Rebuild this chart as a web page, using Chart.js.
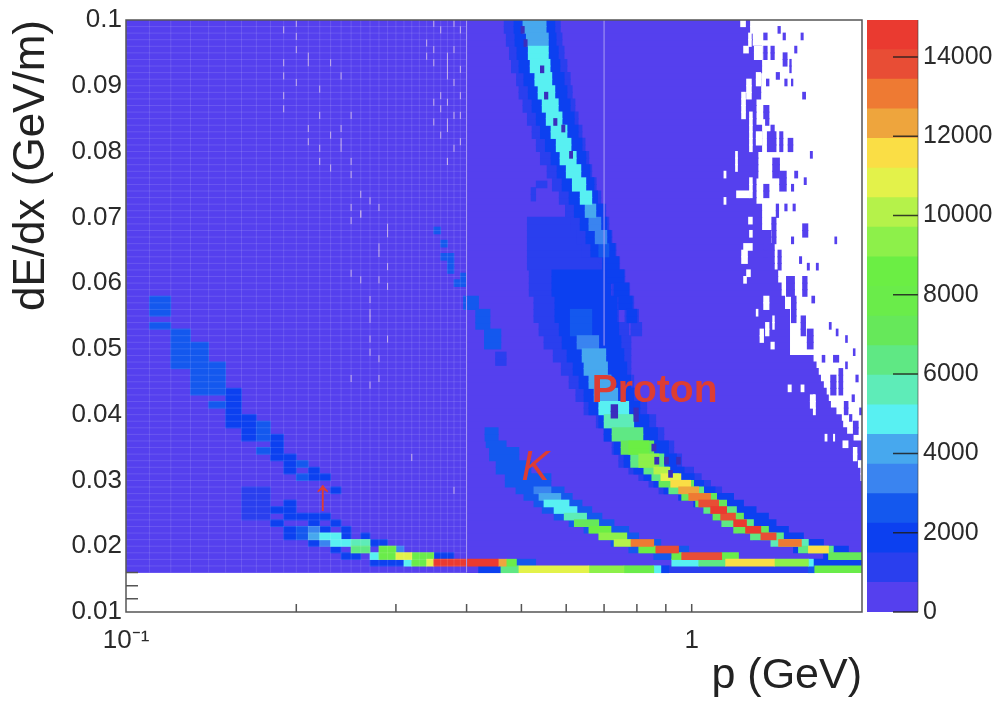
<!DOCTYPE html>
<html lang="en">
<head>
  <meta charset="UTF-8" />
  <title>dE/dx vs p</title>
  <script src="https://cdn.jsdelivr.net/npm/chart.js"></script>
  <style>
    body { margin: 0; background: #fff; }
    #heatChart { position: absolute; left: 0; top: 0; }
    #barChart { position: absolute; left: 867px; top: 0; }
  </style>
</head>
<body>
  <canvas id="heatChart" width="999" height="702"></canvas>
  <canvas id="barChart" width="132" height="702"></canvas>

  <script>
// axis readings
const xTickValues = [0.1, 1];
const xTickLabels = ['10⁻¹', '1'];
const xMinorTicks = [0.2, 0.3, 0.4, 0.5, 0.6, 0.7, 0.8, 0.9, 1];
const yMinorTicks = [0.012, 0.014, 0.016];
const zMax = 14930;
const zTicks = [0, 2000, 4000, 6000, 8000, 10000, 12000, 14000];
const zBandColors = ['#5540ee', '#2a3fee', '#0c40f0', '#1458ee', '#3a84f0', '#47a8ee', '#58f0f2', '#5eecb8',
  '#5fe884', '#66e85a', '#6aec4a', '#6bee44', '#8df04a', '#b5f24a', '#e3f24a', '#fade45',
  '#eea53d', '#ee7a33', '#e84d35', '#ea3a30'];

// cells: [dE/dx from, dE/dx to, p from, p to, counts]
const baseBlocks = [
  [0.016, 0.036, 0.1, 2, 300], [0.036, 0.037, 0.1, 1.93, 300], [0.037, 0.038, 0.1, 1.88, 300],
  [0.038, 0.039, 0.1, 1.85, 300], [0.039, 0.04, 0.1, 1.84, 300], [0.04, 0.041, 0.1, 1.8, 300],
  [0.041, 0.042, 0.1, 1.76, 300], [0.042, 0.043, 0.1, 1.745, 300], [0.043, 0.044, 0.1, 1.73, 300],
  [0.044, 0.045, 0.1, 1.71, 300], [0.045, 0.046, 0.1, 1.69, 300], [0.046, 0.047, 0.1, 1.675, 300],
  [0.047, 0.048, 0.1, 1.66, 300], [0.048, 0.049, 0.1, 1.64, 300], [0.049, 0.056, 0.1, 1.49, 300],
  [0.056, 0.058, 0.1, 1.46, 300], [0.058, 0.06, 0.1, 1.44, 300], [0.06, 0.062, 0.1, 1.42, 300],
  [0.062, 0.066, 0.1, 1.4, 300], [0.066, 0.068, 0.1, 1.38, 300], [0.068, 0.072, 0.1, 1.33, 300],
  [0.072, 0.076, 0.1, 1.3, 300], [0.076, 0.08, 0.1, 1.31, 300], [0.08, 0.084, 0.1, 1.33, 300],
  [0.084, 0.088, 0.1, 1.3, 300], [0.088, 0.092, 0.1, 1.325, 300], [0.092, 0.096, 0.1, 1.33, 300],
  [0.096, 0.1, 0.1, 1.28, 300]
];
const blueSpecks = [
  [0.098, 0.099, 1.42, 1.435, 300], [0.097, 0.098, 1.45, 1.465, 300], [0.097, 0.098, 1.56, 1.575, 300],
  [0.097, 0.098, 1.34, 1.36, 300], [0.095, 0.096, 1.52, 1.535, 300], [0.094, 0.096, 1.34, 1.36, 300],
  [0.094, 0.096, 1.38, 1.4, 300], [0.093, 0.095, 1.45, 1.475, 300], [0.092, 0.094, 1.49, 1.5, 300],
  [0.091, 0.092, 1.41, 1.43, 300], [0.09, 0.091, 1.46, 1.475, 300], [0.09, 0.091, 1.355, 1.37, 300],
  [0.09, 0.091, 1.5, 1.51, 300], [0.088, 0.089, 1.57, 1.59, 300], [0.085, 0.087, 1.34, 1.37, 300],
  [0.084, 0.085, 1.35, 1.37, 300], [0.082, 0.084, 1.38, 1.4, 300], [0.08, 0.083, 1.36, 1.41, 300],
  [0.08, 0.083, 1.43, 1.45, 300], [0.08, 0.082, 1.48, 1.51, 300], [0.079, 0.08, 1.62, 1.635, 300],
  [0.076, 0.079, 1.39, 1.43, 300], [0.074, 0.077, 1.43, 1.47, 300], [0.076, 0.077, 1.52, 1.54, 300],
  [0.075, 0.076, 1.58, 1.595, 300], [0.074, 0.075, 1.5, 1.515, 300], [0.073, 0.075, 1.34, 1.37, 300],
  [0.07, 0.072, 1.41, 1.425, 300], [0.071, 0.072, 1.46, 1.475, 300], [0.071, 0.072, 1.51, 1.525, 300],
  [0.066, 0.07, 1.385, 1.41, 300], [0.067, 0.069, 1.57, 1.605, 300], [0.066, 0.067, 1.79, 1.805, 300],
  [0.066, 0.067, 1.5, 1.515, 300], [0.064, 0.066, 1.34, 1.36, 300], [0.062, 0.065, 1.42, 1.44, 300],
  [0.063, 0.064, 1.55, 1.565, 300], [0.062, 0.063, 1.6, 1.615, 300], [0.062, 0.063, 1.66, 1.675, 300],
  [0.058, 0.061, 1.47, 1.52, 300], [0.058, 0.061, 1.57, 1.6, 300], [0.057, 0.058, 1.63, 1.65, 300],
  [0.054, 0.058, 1.5, 1.53, 300], [0.052, 0.055, 1.56, 1.59, 300], [0.05, 0.053, 1.6, 1.64, 300],
  [0.053, 0.054, 1.75, 1.765, 300], [0.052, 0.053, 1.8, 1.815, 300], [0.051, 0.052, 1.87, 1.885, 300],
  [0.049, 0.05, 1.93, 1.945, 300], [0.048, 0.049, 1.7, 1.72, 300], [0.048, 0.049, 1.78, 1.82, 300],
  [0.047, 0.048, 1.87, 1.885, 300], [0.043, 0.047, 1.82, 1.85, 300], [0.045, 0.046, 1.95, 1.97, 300],
  [0.043, 0.046, 1.76, 1.8, 300], [0.042, 0.043, 1.92, 1.94, 300], [0.04, 0.042, 1.86, 1.89, 300],
  [0.04, 0.041, 1.98, 2, 300], [0.039, 0.04, 1.9, 1.92, 300], [0.037, 0.039, 1.93, 1.97, 300]
];
const whiteSpecks = [
  [0.099, 0.1, 1.22, 1.245], [0.098, 0.1, 1.27, 1.286], [0.096, 0.098, 1.26, 1.275], [0.095, 0.096, 1.235, 1.26],
  [0.094, 0.096, 1.29, 1.33], [0.09, 0.092, 1.3, 1.325], [0.088, 0.091, 1.25, 1.275], [0.085, 0.089, 1.225, 1.245],
  [0.083, 0.086, 1.265, 1.28], [0.08, 0.083, 1.265, 1.28], [0.081, 0.083, 1.3, 1.33], [0.077, 0.08, 1.195, 1.205],
  [0.076, 0.077, 1.14, 1.15], [0.073, 0.076, 1.265, 1.28], [0.073, 0.074, 1.2, 1.265], [0.072, 0.073, 1.14, 1.15],
  [0.069, 0.07, 1.26, 1.28], [0.067, 0.068, 1.265, 1.28], [0.065, 0.066, 1.235, 1.28], [0.063, 0.065, 1.225, 1.255],
  [0.061, 0.062, 1.25, 1.27], [0.06, 0.061, 1.235, 1.25], [0.056, 0.058, 1.34, 1.37], [0.055, 0.056, 1.3, 1.31],
  [0.052, 0.054, 1.35, 1.37], [0.053, 0.055, 1.39, 1.4], [0.051, 0.053, 1.32, 1.34], [0.05, 0.051, 1.38, 1.4],
  [0.041, 0.043, 1.62, 1.65], [0.04, 0.043, 1.64, 1.655], [0.0435, 0.0445, 1.56, 1.58], [0.0435, 0.0445, 1.48, 1.5],
  [0.036, 0.037, 1.72, 1.735], [0.036, 0.037, 1.78, 1.79], [0.035, 0.036, 1.85, 1.89], [0.033, 0.035, 1.93, 1.96],
  [0.032, 0.033, 1.97, 2], [0.03, 0.032, 1.99, 2]
];
const pionUpper = [
  [0.055, 0.058, 0.11, 0.12, 2600], [0.053, 0.054, 0.11, 0.12, 2600], [0.047, 0.053, 0.12, 0.13, 2600],
  [0.043, 0.051, 0.13, 0.14, 2600], [0.043, 0.048, 0.14, 0.15, 2600], [0.041, 0.042, 0.14, 0.15, 2600],
  [0.038, 0.044, 0.15, 0.16, 1800], [0.036, 0.04, 0.16, 0.17, 1800], [0.036, 0.039, 0.17, 0.18, 2600],
  [0.034, 0.035, 0.17, 0.18, 2600], [0.033, 0.037, 0.18, 0.19, 1800], [0.031, 0.034, 0.19, 0.2, 1800],
  [0.032, 0.033, 0.2, 0.21, 2600], [0.03, 0.031, 0.2, 0.21, 2600], [0.03, 0.032, 0.21, 0.22, 1800],
  [0.03, 0.031, 0.22, 0.23, 1800], [0.028, 0.029, 0.23, 0.24, 1800],
  [0.0675, 0.0685, 0.35, 0.36, 2600], [0.0655, 0.0665, 0.36, 0.37, 2600], [0.0635, 0.0645, 0.36, 0.38, 2600],
  [0.0615, 0.0635, 0.37, 0.38, 2600], [0.0605, 0.0615, 0.39, 0.4, 2600], [0.0595, 0.0605, 0.38, 0.4, 2600],
  [0.056, 0.0585, 0.395, 0.42, 2600], [0.053, 0.056, 0.415, 0.44, 2600], [0.05, 0.053, 0.43, 0.46, 2600],
  [0.0475, 0.05, 0.45, 0.47, 1100]
];
const pionLower = [
  [0.027, 0.029, 0.16, 0.18, 1100], [0.026, 0.027, 0.16, 0.18, 1100], [0.026, 0.027, 0.19, 0.2, 1800],
  [0.025, 0.026, 0.16, 0.18, 1100], [0.025, 0.026, 0.18, 0.2, 1800], [0.024, 0.025, 0.16, 0.18, 1100],
  [0.024, 0.025, 0.19, 0.23, 1800], [0.023, 0.024, 0.18, 0.19, 1800], [0.023, 0.024, 0.21, 0.22, 1800],
  [0.023, 0.024, 0.23, 0.24, 1800], [0.022, 0.023, 0.19, 0.2, 1800], [0.022, 0.023, 0.2, 0.21, 2600],
  [0.022, 0.023, 0.21, 0.22, 3400], [0.022, 0.023, 0.22, 0.23, 1800], [0.022, 0.023, 0.24, 0.25, 1800],
  [0.021, 0.022, 0.19, 0.2, 1800], [0.021, 0.022, 0.2, 0.21, 2600], [0.021, 0.022, 0.21, 0.22, 4100],
  [0.021, 0.022, 0.22, 0.24, 4900], [0.021, 0.022, 0.24, 0.25, 1800], [0.021, 0.022, 0.26, 0.27, 1800],
  [0.02, 0.021, 0.21, 0.22, 1800], [0.02, 0.021, 0.22, 0.23, 3400], [0.02, 0.021, 0.23, 0.25, 4900],
  [0.02, 0.021, 0.25, 0.27, 5600], [0.02, 0.021, 0.27, 0.29, 1800], [0.019, 0.02, 0.23, 0.24, 1800],
  [0.019, 0.02, 0.25, 0.27, 6400], [0.019, 0.02, 0.28, 0.3, 8000], [0.019, 0.02, 0.3, 0.31, 3400],
  [0.018, 0.019, 0.24, 0.26, 1800], [0.018, 0.019, 0.27, 0.28, 4900], [0.018, 0.019, 0.28, 0.3, 8000],
  [0.018, 0.019, 0.3, 0.32, 10800], [0.018, 0.019, 0.32, 0.35, 8000], [0.018, 0.019, 0.35, 0.38, 1800],
  [0.017, 0.018, 0.27, 0.31, 1800], [0.017, 0.018, 0.31, 0.32, 4900], [0.017, 0.018, 0.32, 0.34, 8000],
  [0.017, 0.018, 0.34, 0.35, 11000], [0.017, 0.018, 0.35, 0.455, 14500], [0.017, 0.018, 0.455, 0.47, 12300],
  [0.017, 0.018, 0.47, 0.49, 8000], [0.017, 0.018, 0.49, 0.53, 2600],
  [0.016, 0.017, 0.42, 0.46, 1800], [0.016, 0.017, 0.46, 0.495, 6400], [0.016, 0.017, 0.495, 0.658, 11000],
  [0.016, 0.017, 0.658, 0.759, 9300], [0.016, 0.017, 0.759, 0.857, 8000], [0.016, 0.017, 0.857, 0.882, 4900],
  [0.016, 0.017, 0.882, 0.911, 1800], [0.016, 0.017, 0.911, 1.608, 1100], [0.016, 0.017, 1.608, 1.65, 2600],
  [0.016, 0.017, 1.65, 2, 7800]
];
const kaonLobe = [
  [0.036, 0.038, 0.431, 0.455, 2600], [0.035, 0.036, 0.433, 0.47, 2600], [0.033, 0.035, 0.439, 0.495, 2600],
  [0.031, 0.033, 0.451, 0.52, 2600], [0.029, 0.031, 0.468, 0.564, 2600], [0.028, 0.029, 0.489, 0.595, 2600],
  [0.027, 0.028, 0.505, 0.615, 2600], [0.026, 0.027, 0.526, 0.64, 2600], [0.025, 0.026, 0.544, 0.666, 2600],
  [0.024, 0.025, 0.571, 0.694, 2600], [0.023, 0.024, 0.607, 0.729, 2600], [0.022, 0.023, 0.645, 0.774, 2600],
  [0.021, 0.022, 0.685, 0.806, 2600], [0.02, 0.021, 0.72, 0.882, 2600], [0.019, 0.02, 0.774, 0.988, 2600],
  [0.018, 0.019, 0.857, 1.162, 2600]
];
const kaonCore = [
  [0.028, 0.029, 0.526, 0.564, 3400], [0.027, 0.028, 0.537, 0.587, 4100], [0.026, 0.027, 0.548, 0.607, 4900],
  [0.025, 0.026, 0.571, 0.627, 4900], [0.024, 0.025, 0.595, 0.652, 5600], [0.023, 0.024, 0.62, 0.685, 7100],
  [0.022, 0.023, 0.658, 0.72, 8600], [0.021, 0.022, 0.685, 0.768, 9300], [0.02, 0.021, 0.729, 0.781, 10100],
  [0.02, 0.021, 0.781, 0.857, 13000], [0.019, 0.02, 0.806, 0.864, 8600], [0.019, 0.02, 0.864, 0.948, 13800],
  [0.018, 0.019, 0.922, 0.96, 8000], [0.018, 0.019, 0.96, 1.13, 13800], [0.018, 0.019, 1.13, 1.21, 8000],
  [0.017, 0.018, 0.922, 1.029, 4900], [0.017, 0.018, 1.029, 1.148, 6400], [0.017, 0.018, 1.148, 1.4, 11600],
  [0.017, 0.018, 1.4, 1.608, 9300], [0.017, 0.018, 1.608, 1.641, 4900], [0.017, 0.018, 1.641, 2, 1800]
];
const protonUpper = [
  [0.098, 0.1, 0.466, 0.586, 1100], [0.098, 0.1, 0.485, 0.573, 1800], [0.098, 0.1, 0.503, 0.553, 4100],
  [0.096, 0.098, 0.47, 0.59, 1100], [0.096, 0.098, 0.487, 0.576, 1800], [0.096, 0.098, 0.51, 0.558, 4100],
  [0.094, 0.096, 0.476, 0.595, 1100], [0.094, 0.096, 0.491, 0.581, 1800], [0.094, 0.096, 0.514, 0.558, 4900],
  [0.092, 0.094, 0.48, 0.602, 1100], [0.092, 0.094, 0.495, 0.585, 1800], [0.092, 0.094, 0.518, 0.562, 4900],
  [0.09, 0.092, 0.49, 0.61, 1100], [0.09, 0.092, 0.505, 0.595, 1800], [0.09, 0.092, 0.528, 0.566, 4900],
  [0.088, 0.09, 0.495, 0.615, 1100], [0.088, 0.09, 0.514, 0.602, 1800], [0.088, 0.09, 0.535, 0.573, 4900],
  [0.086, 0.088, 0.503, 0.622, 1100], [0.086, 0.088, 0.522, 0.61, 1800], [0.086, 0.088, 0.544, 0.581, 4900],
  [0.084, 0.086, 0.512, 0.63, 1100], [0.084, 0.086, 0.531, 0.62, 1800], [0.084, 0.086, 0.553, 0.59, 4900],
  [0.082, 0.084, 0.522, 0.64, 1100], [0.082, 0.084, 0.54, 0.63, 1800], [0.082, 0.084, 0.564, 0.602, 4900],
  [0.08, 0.082, 0.531, 0.648, 1100], [0.08, 0.082, 0.551, 0.64, 1800], [0.08, 0.082, 0.576, 0.612, 4900],
  [0.078, 0.08, 0.54, 0.658, 1100], [0.078, 0.08, 0.564, 0.65, 1800], [0.078, 0.08, 0.585, 0.625, 4900],
  [0.076, 0.078, 0.555, 0.666, 1100], [0.076, 0.078, 0.578, 0.661, 1800], [0.076, 0.078, 0.6, 0.637, 4900],
  [0.074, 0.076, 0.567, 0.678, 1100], [0.074, 0.076, 0.59, 0.672, 1800], [0.074, 0.076, 0.615, 0.65, 4900],
  [0.072, 0.074, 0.583, 0.691, 1100], [0.072, 0.074, 0.607, 0.682, 1800], [0.072, 0.074, 0.635, 0.666, 4900],
  [0.07, 0.072, 0.598, 0.705, 1100], [0.07, 0.072, 0.62, 0.697, 1800], [0.07, 0.072, 0.648, 0.677, 4100],
  [0.068, 0.07, 0.612, 0.714, 1100], [0.068, 0.07, 0.635, 0.708, 1800], [0.068, 0.07, 0.658, 0.691, 3400],
  [0.066, 0.068, 0.627, 0.723, 1100], [0.066, 0.068, 0.65, 0.72, 1800], [0.066, 0.068, 0.675, 0.708, 3400],
  [0.064, 0.066, 0.64, 0.735, 1100], [0.064, 0.066, 0.663, 0.732, 1800], [0.064, 0.066, 0.685, 0.714, 2600],
  [0.062, 0.064, 0.685, 0.746, 1100], [0.062, 0.064, 0.695, 0.743, 1800], [0.06, 0.062, 0.702, 0.762, 1100],
  [0.06, 0.062, 0.708, 0.759, 1800], [0.058, 0.06, 0.723, 0.777, 1100], [0.058, 0.06, 0.729, 0.774, 1800],
  [0.056, 0.058, 0.738, 0.79, 1100], [0.056, 0.058, 0.743, 0.785, 1800], [0.054, 0.056, 0.762, 0.806, 1100],
  [0.054, 0.056, 0.768, 0.8, 1800], [0.052, 0.054, 0.781, 0.816, 1100]
];
const protonLobe = [
  [0.0745, 0.0755, 0.531, 0.555, 1100], [0.0725, 0.0745, 0.52, 0.53, 1100],
  [0.066, 0.07, 0.512, 0.66, 1100], [0.062, 0.066, 0.512, 0.685, 1100], [0.058, 0.062, 0.516, 0.714, 1100],
  [0.054, 0.058, 0.526, 0.743, 1100], [0.052, 0.054, 0.537, 0.774, 1100], [0.05, 0.052, 0.548, 0.781, 1100],
  [0.048, 0.05, 0.569, 0.781, 1100], [0.046, 0.048, 0.588, 0.781, 1100], [0.044, 0.046, 0.607, 0.79, 1100],
  [0.042, 0.044, 0.624, 0.806, 1100], [0.04, 0.042, 0.645, 0.833, 1100], [0.038, 0.04, 0.678, 0.864, 1100],
  [0.036, 0.038, 0.7, 0.893, 1100], [0.034, 0.036, 0.723, 0.93, 1100], [0.032, 0.034, 0.743, 0.96, 1100],
  [0.031, 0.032, 0.774, 1.008, 1100], [0.03, 0.031, 0.806, 1.04, 1100], [0.029, 0.03, 0.84, 1.08, 1100],
  [0.028, 0.029, 0.875, 1.13, 1100],
  [0.058, 0.062, 0.566, 0.72, 1800], [0.054, 0.058, 0.573, 0.738, 1800], [0.052, 0.054, 0.583, 0.743, 1800],
  [0.05, 0.052, 0.59, 0.75, 1800], [0.048, 0.05, 0.602, 0.759, 1800], [0.046, 0.048, 0.617, 0.768, 1800],
  [0.044, 0.046, 0.632, 0.78, 1800], [0.042, 0.044, 0.645, 0.79, 1800], [0.04, 0.042, 0.658, 0.81, 1800],
  [0.038, 0.04, 0.685, 0.84, 1800], [0.036, 0.038, 0.7, 0.87, 1800], [0.034, 0.036, 0.729, 0.91, 1800],
  [0.032, 0.034, 0.759, 0.94, 1800], [0.031, 0.032, 0.79, 0.97, 1800], [0.03, 0.031, 0.823, 1.01, 1800],
  [0.029, 0.03, 0.857, 1.05, 1800], [0.028, 0.029, 0.893, 1.1, 1800], [0.027, 0.028, 0.948, 1.186, 1800],
  [0.026, 0.027, 1.008, 1.235, 1800], [0.025, 0.026, 1.05, 1.3, 1800], [0.024, 0.025, 1.09, 1.367, 1800],
  [0.023, 0.024, 1.139, 1.41, 1800], [0.022, 0.023, 1.21, 1.483, 1800], [0.021, 0.022, 1.286, 1.576, 1800],
  [0.02, 0.021, 1.395, 1.71, 1800], [0.019, 0.02, 1.513, 1.893, 1800], [0.018, 0.019, 1.71, 2, 1800]
];
const protonCore = [
  [0.052, 0.056, 0.61, 0.666, 2600], [0.05, 0.052, 0.627, 0.685, 3400], [0.048, 0.05, 0.64, 0.705, 4100],
  [0.046, 0.048, 0.645, 0.71, 4100], [0.044, 0.046, 0.658, 0.72, 4100], [0.042, 0.044, 0.672, 0.74, 4100],
  [0.04, 0.042, 0.685, 0.774, 4900], [0.038, 0.04, 0.7, 0.79, 5600], [0.036, 0.038, 0.723, 0.82, 6400],
  [0.034, 0.036, 0.75, 0.857, 7100], [0.034, 0.036, 0.774, 0.84, 8600], [0.032, 0.034, 0.78, 0.893, 6400],
  [0.032, 0.034, 0.806, 0.875, 9300], [0.031, 0.032, 0.823, 0.911, 6400], [0.031, 0.032, 0.857, 0.915, 10100],
  [0.03, 0.031, 0.85, 0.948, 6400], [0.03, 0.031, 0.882, 0.957, 10800], [0.029, 0.03, 0.875, 1.008, 7100],
  [0.029, 0.03, 0.918, 0.996, 11600], [0.028, 0.029, 0.911, 1.05, 6400], [0.028, 0.029, 0.948, 1.029, 12300],
  [0.027, 0.028, 0.96, 1.107, 7100], [0.027, 0.028, 0.988, 1.08, 13000], [0.026, 0.027, 1.016, 1.153, 7100],
  [0.026, 0.027, 1.029, 1.116, 13800], [0.025, 0.026, 1.05, 1.2, 6400], [0.025, 0.026, 1.08, 1.153, 14500],
  [0.024, 0.025, 1.09, 1.235, 7100], [0.024, 0.025, 1.125, 1.195, 13800], [0.023, 0.024, 1.13, 1.286, 6400],
  [0.023, 0.024, 1.186, 1.25, 14500], [0.022, 0.023, 1.186, 1.367, 7100], [0.022, 0.023, 1.245, 1.325, 14500],
  [0.021, 0.022, 1.27, 1.453, 6400], [0.021, 0.022, 1.325, 1.41, 13800], [0.02, 0.021, 1.38, 1.608, 5600],
  [0.02, 0.021, 1.424, 1.563, 13000], [0.019, 0.02, 1.544, 1.78, 6400], [0.019, 0.02, 1.608, 1.745, 11600],
  [0.018, 0.019, 1.745, 2, 7100]
];
// low count holes inside the tracks: [dE/dx from, dE/dx to, p from, p to]
const holes = [
  [0.092, 0.093, 0.54, 0.548], [0.088, 0.089, 0.549, 0.557], [0.084, 0.085, 0.57, 0.578], [0.083, 0.084, 0.589, 0.597],
  [0.079, 0.08, 0.608, 0.616], [0.096, 0.097, 0.505, 0.512], [0.098, 0.099, 0.499, 0.506], [0.0395, 0.0415, 0.72, 0.74], [0.039, 0.041, 0.79, 0.805],
  [0.0345, 0.0355, 0.85, 0.865], [0.0325, 0.0335, 0.86, 0.875], [0.0325, 0.0335, 0.895, 0.91], [0.0325, 0.0335, 0.94, 0.955],
  [0.0305, 0.0315, 0.91, 0.925]
];
// pale short dashes in the sparse region
const dashP = [0.19, 0.19, 0.19, 0.19, 0.19, 0.2, 0.2, 0.2, 0.2, 0.21, 0.21, 0.21, 0.21, 0.22, 0.22, 0.22, 0.22,
  0.23, 0.23, 0.23, 0.24, 0.24, 0.24, 0.24, 0.25, 0.25, 0.25, 0.26, 0.27, 0.28,
  0.35, 0.35, 0.35, 0.35, 0.35, 0.36, 0.36, 0.36, 0.36, 0.34, 0.34, 0.37, 0.37, 0.37, 0.37, 0.37, 0.37, 0.37, 0.37,
  0.38, 0.38, 0.38, 0.38, 0.38, 0.39, 0.39, 0.39, 0.39, 0.39, 0.37,
  0.26, 0.25, 0.26, 0.25, 0.29, 0.29, 0.28, 0.28, 0.29, 0.25, 0.26, 0.28, 0.29, 0.27, 0.27, 0.27, 0.27, 0.29, 0.27, 0.28, 0.25, 0.28, 0.27,
  0.32, 0.38];
const dashRow = [0.0985, 0.0935, 0.0915, 0.0885, 0.0865, 0.0995, 0.0975, 0.0955, 0.0905, 0.0945, 0.0935, 0.0835, 0.0815, 0.0895, 0.0855, 0.0805, 0.0785,
  0.0935, 0.0825, 0.0775, 0.0915, 0.0835, 0.0815, 0.0805, 0.0855, 0.0785, 0.0765, 0.0735, 0.0725, 0.0715,
  0.0995, 0.0955, 0.0935, 0.0875, 0.0845, 0.0985, 0.0885, 0.0865, 0.0825, 0.0965, 0.0945, 0.0945, 0.0935, 0.0925, 0.0915, 0.0875, 0.0845, 0.0835, 0.0785,
  0.0995, 0.0955, 0.0905, 0.0855, 0.0805, 0.0985, 0.0925, 0.0885, 0.0855, 0.0815, 0.0785,
  0.0705, 0.0715, 0.0705, 0.0695, 0.0685, 0.0675, 0.0655, 0.0645, 0.0625, 0.0615, 0.0605, 0.0605, 0.0595, 0.0575, 0.0555, 0.0545, 0.0515, 0.0515, 0.0495, 0.0485, 0.0455, 0.0455, 0.0445,
  0.0335, 0.0285];
// pale full-height lines: p and lowest dE/dx reached
const lineP = [0.4, 0.7];
const lineFloor = [0.016, 0.0505];
// painted labels on the plot
const noteTexts = ['Proton', 'K', '↑'];
const noteP = [0.666, 0.5, 0.213];
const noteY = [0.0419, 0.03, 0.0255];
const noteFonts = ['bold 39px "Liberation Sans"', 'italic 42px "Liberation Sans"', '44px "Liberation Sans"'];

// sort the cells into one dataset per colour band
const bandStep = zMax / zBandColors.length;
const bandCells = zBandColors.map(() => []);
function addBlocks(blocks, target) {
  blocks.forEach(b => {
    const dest = target || bandCells[Math.min(19, Math.floor(b[4] / bandStep))];
    for (let y = b[0] + 0.0005; y < b[1]; y += 0.001) {
      dest.push({ x: [b[2], b[3]], y: +y.toFixed(4) });
    }
  });
}
[baseBlocks, blueSpecks, protonLobe, protonUpper, protonCore, kaonLobe, kaonCore, pionUpper, pionLower].forEach(b => addBlocks(b));
const whiteCells = [];
addBlocks(whiteSpecks, whiteCells);
const holeCells = [];
addBlocks(holes, holeCells);

function cellSet(cells, color) {
  return { data: cells, backgroundColor: color, barThickness: 7, grouped: false, borderWidth: 0 };
}
const datasets = [
  {
    type: 'scatter', indexAxis: 'x',
    data: dashP.map((p, i) => ({ x: p, y: dashRow[i] })),
    pointStyle: 'line', rotation: 90, pointRadius: 3.5, borderColor: '#bfa8ea', borderWidth: 1
  },
  cellSet(holeCells, '#3a2dbd')
];
for (let k = zBandColors.length - 1; k > 0; k--) datasets.push(cellSet(bandCells[k], zBandColors[k]));
datasets.push(cellSet(whiteCells, '#ffffff'));
datasets.push(cellSet(bandCells[0], zBandColors[0]));

// mesh, pale lines, inward ticks, frame and painted labels
const heatOverlay = {
  id: 'heatOverlay',
  afterDatasetsDraw(chart) {
    const { ctx, chartArea: a, scales: { x, y } } = chart;
    const yFloor = y.getPixelForValue(0.016);
    const xEnd = x.getPixelForValue(0.4);
    ctx.save();
    ctx.lineWidth = 1;
    ctx.strokeStyle = 'rgba(255,255,255,0.12)';
    ctx.beginPath();
    for (let i = 10; i < 40; i++) {
      const px = x.getPixelForValue(i / 100);
      ctx.moveTo(px, a.top);
      ctx.lineTo(px, yFloor);
    }
    for (let i = 16; i < 100; i++) {
      const py = y.getPixelForValue(i / 1000);
      ctx.moveTo(a.left, py);
      ctx.lineTo(xEnd, py);
    }
    ctx.stroke();

    ctx.strokeStyle = '#a99cf3';
    lineP.forEach((p, i) => {
      const px = x.getPixelForValue(p);
      ctx.beginPath();
      ctx.moveTo(px, a.top);
      ctx.lineTo(px, y.getPixelForValue(lineFloor[i]));
      ctx.stroke();
    });

    ctx.strokeStyle = '#555';
    ctx.lineWidth = 1.5;
    ctx.beginPath();
    xMinorTicks.forEach(p => {
      const px = x.getPixelForValue(p);
      ctx.moveTo(px, a.bottom);
      ctx.lineTo(px, a.bottom - 8);
    });
    yMinorTicks.forEach(v => {
      const py = y.getPixelForValue(v);
      ctx.moveTo(a.left, py);
      ctx.lineTo(a.left + 12, py);
    });
    ctx.stroke();
    ctx.strokeRect(a.left, a.top, a.right - a.left, a.bottom - a.top);

    ctx.fillStyle = '#dd3d33';
    ctx.textAlign = 'left';
    ctx.textBaseline = 'alphabetic';
    noteTexts.forEach((t, i) => {
      ctx.font = noteFonts[i];
      ctx.fillText(t, x.getPixelForValue(noteP[i]), y.getPixelForValue(noteY[i]));
    });
    ctx.restore();
  }
};

new Chart(document.getElementById('heatChart'), {
  type: 'bar',
  data: { datasets: datasets },
  plugins: [heatOverlay],
  options: {
    indexAxis: 'y',
    responsive: false,
    animation: false,
    events: [],
    layout: { padding: { top: 20, right: 137, left: 0, bottom: 0 } },
    plugins: { legend: { display: false }, tooltip: { enabled: false } },
    scales: {
      x: {
        type: 'logarithmic',
        min: 0.1,
        max: 2,
        grid: { display: false, drawTicks: false },
        border: { display: false },
        afterBuildTicks: scale => { scale.ticks = xTickValues.map(v => ({ value: v })); },
        afterFit: scale => { scale.height = 90; },
        ticks: {
          autoSkip: false,
          maxRotation: 0,
          padding: 13,
          color: '#2a2a2a',
          font: { family: '"Liberation Sans"', size: 26 },
          callback: v => xTickLabels[xTickValues.indexOf(v)]
        },
        title: {
          display: true,
          text: 'p (GeV)',
          align: 'end',
          color: '#222',
          padding: 0,
          font: { family: '"Liberation Sans"', size: 43 }
        }
      },
      y: {
        type: 'linear',
        min: 0.01,
        max: 0.1,
        offset: false,
        grid: { display: false, drawTicks: false, offset: false },
        border: { display: false },
        afterFit: scale => { scale.width = 126; },
        ticks: {
          stepSize: 0.01,
          padding: 4,
          color: '#2a2a2a',
          font: { family: '"Liberation Sans"', size: 26 },
          callback: v => (Math.abs(v - 0.1) < 1e-9 ? '0.1' : v.toFixed(2))
        },
        title: {
          display: true,
          text: 'dE/dx (GeV/m)',
          align: 'end',
          color: '#222',
          padding: { top: 5, bottom: 0 },
          font: { family: '"Liberation Sans"', size: 44 }
        }
      }
    }
  }
});

// colour scale on its own canvas
const zBarTicks = {
  id: 'zBarTicks',
  afterDatasetsDraw(chart) {
    const { ctx, chartArea: a, scales: { y } } = chart;
    ctx.save();
    ctx.strokeStyle = 'rgba(30,30,30,0.85)';
    ctx.lineWidth = 1.5;
    ctx.beginPath();
    zTicks.forEach(v => {
      const py = y.getPixelForValue(v);
      ctx.moveTo(a.right - 25, py);
      ctx.lineTo(a.right, py);
    });
    ctx.stroke();
    ctx.strokeStyle = 'rgba(60,60,60,0.6)';
    ctx.lineWidth = 1;
    ctx.beginPath();
    ctx.moveTo(a.right, a.top);
    ctx.lineTo(a.right, a.bottom);
    ctx.stroke();
    ctx.restore();
  }
};

new Chart(document.getElementById('barChart'), {
  type: 'bar',
  data: {
    labels: [''],
    datasets: zBandColors.map((c, k) => ({
      data: [[k * bandStep, (k + 1) * bandStep]],
      backgroundColor: c,
      grouped: false,
      barPercentage: 1,
      categoryPercentage: 1
    }))
  },
  plugins: [zBarTicks],
  options: {
    responsive: false,
    animation: false,
    events: [],
    layout: { padding: { top: 20, bottom: 90, left: 0, right: 0 } },
    plugins: { legend: { display: false }, tooltip: { enabled: false } },
    scales: {
      x: { display: false },
      y: {
        position: 'right',
        min: 0,
        max: zMax,
        grid: { display: false, drawTicks: false },
        border: { display: false },
        afterBuildTicks: scale => { scale.ticks = zTicks.map(v => ({ value: v })); },
        afterFit: scale => { scale.width = 81; },
        ticks: {
          padding: 5,
          color: '#2a2a2a',
          font: { family: '"Liberation Sans"', size: 25 },
          callback: v => String(v)
        }
      }
    }
  }
});
  </script>
</body>
</html>
